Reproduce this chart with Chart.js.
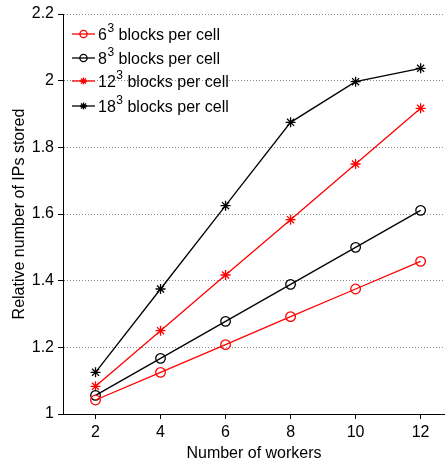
<!DOCTYPE html>
<html>
<head>
<meta charset="utf-8">
<script src="https://cdn.jsdelivr.net/npm/chart.js@4/dist/chart.umd.min.js"></script>
<style>
  html, body { margin: 0; padding: 0; background: #fff; }
  #wrap { width: 445px; height: 463px; }
</style>
</head>
<body>
<div id="wrap"><canvas id="ipChart" width="445" height="463"></canvas></div>
<script>
// workers on the x axis
const workers = [2, 4, 6, 8, 10, 12];
const xTicks = [2, 4, 6, 8, 10, 12];
const yTicks = [1, 1.2, 1.4, 1.6, 1.8, 2, 2.2];

// relative number of IPs stored, one series per block size
const blocks6 = [1.042, 1.125, 1.208, 1.292, 1.375, 1.458];
const blocks8 = [1.056, 1.167, 1.278, 1.389, 1.5, 1.611];
const blocks12 = [1.083, 1.25, 1.417, 1.583, 1.75, 1.917];
const blocks18 = [1.125, 1.375, 1.625, 1.875, 1.997, 2.037];

const seriesNames = ['6', '8', '12', '18'];
const FONT = '"Liberation Sans", Arial, Helvetica, sans-serif';

const toPoints = (vals) => workers.map((w, i) => ({ x: w, y: vals[i] }));

const makeSet = (base, vals, color, style) => ({
    label: base,
    data: toPoints(vals),
    borderColor: color,
    backgroundColor: 'rgba(0,0,0,0)',
    borderWidth: 1.3,
    pointStyle: style,
    pointRadius: style === 'circle' ? 4.8 : 5,
    pointBorderColor: color,
    pointBorderWidth: 1.3,
    pointBackgroundColor: 'rgba(0,0,0,0)',
    tension: 0,
});

// legend drawn inside the plot, with a raised exponent on the block size
const innerLegend = {
    id: 'innerLegend',
    afterDatasetsDraw(chart) {
        const ctx = chart.ctx;
        const rows = [34, 58, 81, 106];
        ctx.save();
        chart.data.datasets.forEach((ds, i) => {
            const y = rows[i];
            ctx.strokeStyle = ds.borderColor;
            ctx.fillStyle = 'rgba(0,0,0,0)';
            ctx.lineWidth = ds.borderWidth;
            ctx.beginPath();
            ctx.moveTo(72, y);
            ctx.lineTo(95, y);
            ctx.stroke();
            Chart.helpers.drawPoint(ctx, {
                pointStyle: ds.pointStyle,
                radius: 3.6,
                borderWidth: ds.pointBorderWidth,
            }, 83.5, y);
            ctx.fillStyle = '#000';
            ctx.textBaseline = 'alphabetic';
            ctx.font = '16px ' + FONT;
            let x = 98;
            ctx.fillText(ds.label, x, y + 6);
            x += ctx.measureText(ds.label).width;
            ctx.font = '12px ' + FONT;
            ctx.fillText('3', x + 0.5, y - 2);
            x += ctx.measureText('3').width + 5;
            ctx.font = '16px ' + FONT;
            ctx.fillText('blocks per cell', x, y + 6);
        });
        ctx.restore();
    }
};

new Chart(document.getElementById('ipChart'), {
    type: 'line',
    data: {
        datasets: [
            makeSet(seriesNames[0], blocks6, '#ff0000', 'circle'),
            makeSet(seriesNames[1], blocks8, '#000000', 'circle'),
            makeSet(seriesNames[2], blocks12, '#ff0000', 'star'),
            makeSet(seriesNames[3], blocks18, '#000000', 'star'),
        ]
    },
    options: {
        responsive: false,
        animation: false,
        layout: { autoPadding: false, padding: { top: 14, right: 0, left: 0, bottom: 0 } },
        plugins: {
            legend: { display: false },
            tooltip: { enabled: false },
        },
        scales: {
            x: {
                type: 'linear',
                min: 1,
                max: 12.75,
                afterBuildTicks: (axis) => { axis.ticks = xTicks.map(v => ({ value: v })); },
                afterFit: (axis) => {
                    axis.height = 49;
                    axis.paddingLeft = 0;
                    axis.paddingRight = 0;
                },
                grid: {
                    drawOnChartArea: false,
                    drawTicks: true,
                    tickLength: 5,
                    tickColor: '#000',
                },
                border: { color: '#000', width: 1 },
                ticks: {
                    color: '#000',
                    padding: 4,
                    maxRotation: 0,
                    font: { family: FONT, size: 16 },
                },
                title: {
                    display: true,
                    text: 'Number of workers',
                    color: '#000',
                    padding: { top: 0, bottom: 0 },
                    font: { family: FONT, size: 16 },
                },
            },
            y: {
                min: 1,
                max: 2.2,
                afterBuildTicks: (axis) => { axis.ticks = yTicks.map(v => ({ value: v })); },
                afterFit: (axis) => {
                    axis.width = 63;
                    axis.paddingTop = 0;
                    axis.paddingBottom = 0;
                },
                grid: {
                    color: '#8c8c8c',
                    lineWidth: 1,
                    tickLength: 5,
                    tickColor: '#000',
                    tickBorderDash: [],
                },
                border: { color: '#000', width: 1, dash: [1, 2] },
                ticks: {
                    color: '#000',
                    padding: 4,
                    font: { family: FONT, size: 16 },
                    callback: (v) => String(Math.round(v * 10) / 10),
                },
                title: {
                    display: true,
                    text: 'Relative number of IPs stored',
                    color: '#000',
                    padding: { top: 10, bottom: 0 },
                    font: { family: FONT, size: 16 },
                },
            },
        },
    },
    plugins: [innerLegend],
});
</script>
</body>
</html>
